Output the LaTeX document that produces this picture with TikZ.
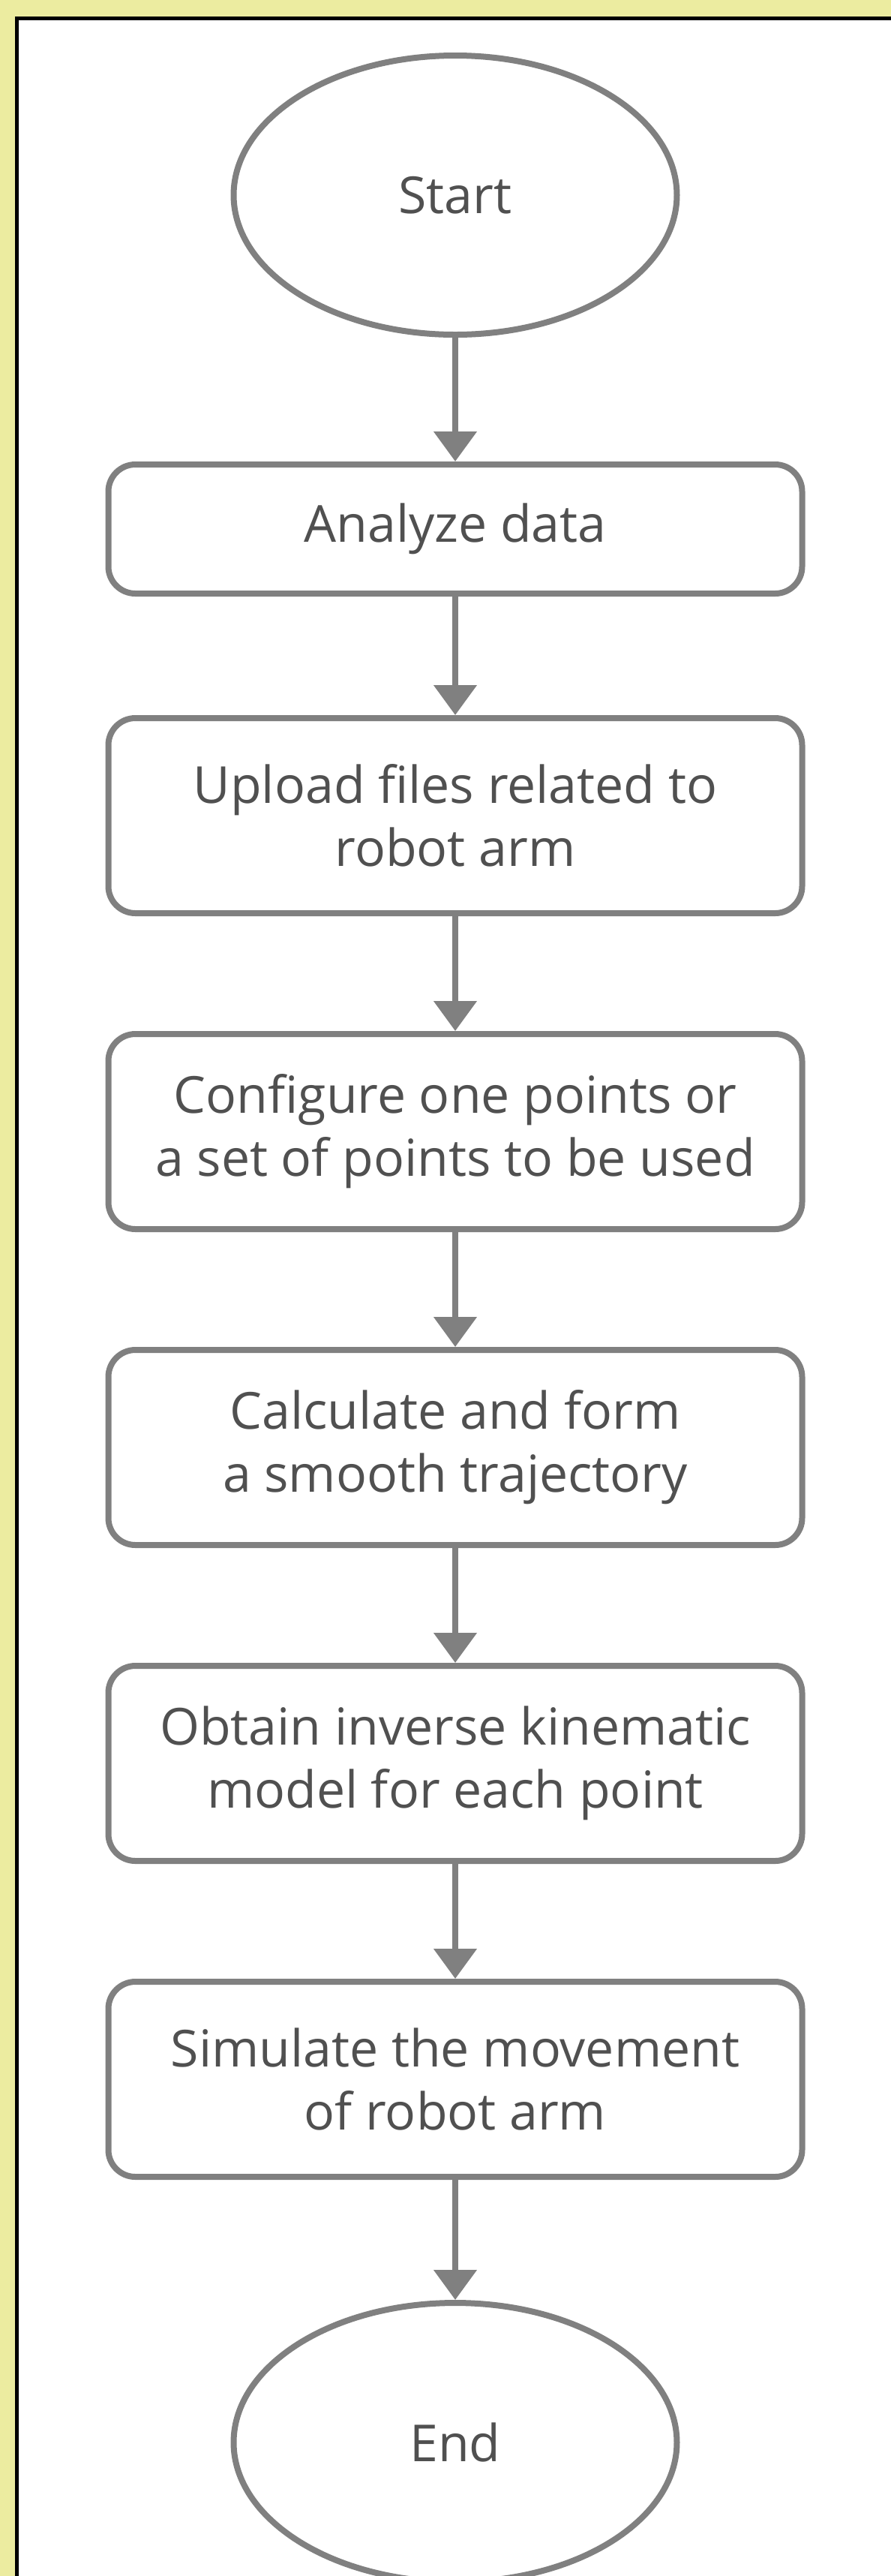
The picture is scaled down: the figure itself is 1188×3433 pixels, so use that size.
\documentclass[tikz,border=0pt]{standalone}
\usepackage{fontspec}
\setmainfont{Open Sans}
\usetikzlibrary{arrows.meta,shapes.geometric}
\definecolor{bgyellow}{RGB}{236,236,160}
\definecolor{linegray}{RGB}{128,128,128}
\definecolor{textgray}{RGB}{80,80,80}
\tikzset{
  px/.style={x=0.5pt,y=-0.5pt},
  stepbox/.style={draw=linegray, line width=4pt, fill=white, rounded corners=18pt,
    minimum width=462.5pt, align=center, text=textgray, inner sep=0pt,
    font=\fontsize{34}{42}\selectfont},
  terminal/.style={draw=linegray, line width=4pt, fill=white, ellipse,
    minimum width=295.5pt, minimum height=186pt, inner sep=0pt, text=textgray,
    font=\fontsize{34}{42}\selectfont},
  flow/.style={draw=linegray, line width=4pt, -{Triangle[width=28pt,length=20pt]}}
}
\begin{document}
\begin{tikzpicture}[px]
\useasboundingbox (0,0) rectangle (1188,3433);
\fill[bgyellow] (0,0) rectangle (1188,3433);
\fill[white] (20,22) rectangle (1188,3433);
\draw[black, line width=2.5pt] (22.5,3433) -- (22.5,24.5) -- (1188,24.5);

\node[terminal] (start) at (607,260) {Start};
\node[stepbox, minimum height=86pt] (analyze) at (607,705) {Analyze data};
\node[stepbox, minimum height=130pt] (upload) at (607,1087) {Upload files related to\\robot arm};
\node[stepbox, minimum height=130pt] (config) at (607,1508) {Configure one points or\\a set of points to be used};
\node[stepbox, minimum height=130pt] (calc) at (607,1929) {Calculate and form\\a smooth trajectory};
\node[stepbox, minimum height=130pt] (obtain) at (607,2350) {Obtain inverse kinematic\\model for each point};
\node[stepbox, minimum height=130pt] (sim) at (607,2771) {Simulate the movement\\of robot arm};
\node[terminal] (end) at (607,3255) {End};

\draw[flow] (start) -- (analyze);
\draw[flow] (analyze) -- (upload);
\draw[flow] (upload) -- (config);
\draw[flow] (config) -- (calc);
\draw[flow] (calc) -- (obtain);
\draw[flow] (obtain) -- (sim);
\draw[flow] (sim) -- (end);
\end{tikzpicture}
\end{document}
